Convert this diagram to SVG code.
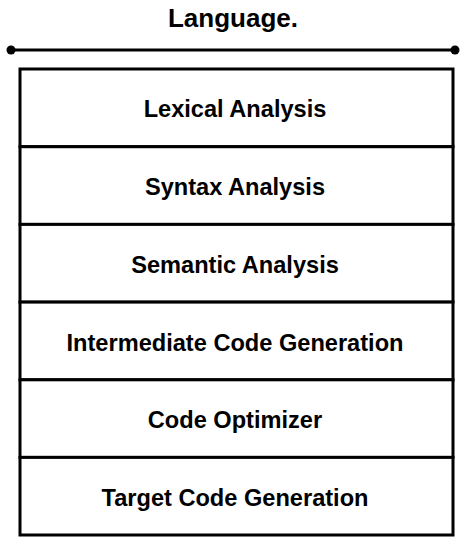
<svg xmlns="http://www.w3.org/2000/svg" width="469" height="554" viewBox="0 0 469 554">
  <style>
    .stage rect { fill: #ffffff; stroke: #000000; stroke-width: 3; }
    .label { font-family: "Liberation Sans", Arial, Helvetica, sans-serif; font-weight: bold; font-size: 23.6px; fill: #000000; text-anchor: middle; }
    .title { font-size: 26px; }
    .rule { stroke: #000000; stroke-width: 3; }
    .dot { fill: #000000; }
  </style>
  <rect width="469" height="554" fill="#ffffff"/>

  <!-- heading and underline rule -->
  <g id="title">
    <text class="label title" x="233" y="27">Language.</text>
  </g>
  <g id="connectors">
    <line class="rule" x1="11" y1="50" x2="455" y2="50"/>
    <circle class="dot" cx="11" cy="50" r="4.5"/>
    <circle class="dot" cx="455" cy="50" r="4.5"/>
  </g>

  <!-- compiler phases, stacked top to bottom -->
  <g id="lexical" class="stage">
    <rect x="20" y="69" width="433" height="77.7"/>
    <text class="label" x="235" y="117">Lexical Analysis</text>
  </g>
  <g id="syntax" class="stage">
    <rect x="20" y="146.7" width="433" height="77.7"/>
    <text class="label" x="235" y="195">Syntax Analysis</text>
  </g>
  <g id="semantic" class="stage">
    <rect x="20" y="224.4" width="433" height="77.7"/>
    <text class="label" x="235" y="273">Semantic Analysis</text>
  </g>
  <g id="intermediate" class="stage">
    <rect x="20" y="302.1" width="433" height="77.7"/>
    <text class="label" x="235" y="351">Intermediate Code Generation</text>
  </g>
  <g id="optimizer" class="stage">
    <rect x="20" y="379.8" width="433" height="77.6"/>
    <text class="label" x="235" y="428">Code Optimizer</text>
  </g>
  <g id="target" class="stage">
    <rect x="20" y="457.4" width="433" height="77.6"/>
    <text class="label" x="235" y="506">Target Code Generation</text>
  </g>
</svg>
